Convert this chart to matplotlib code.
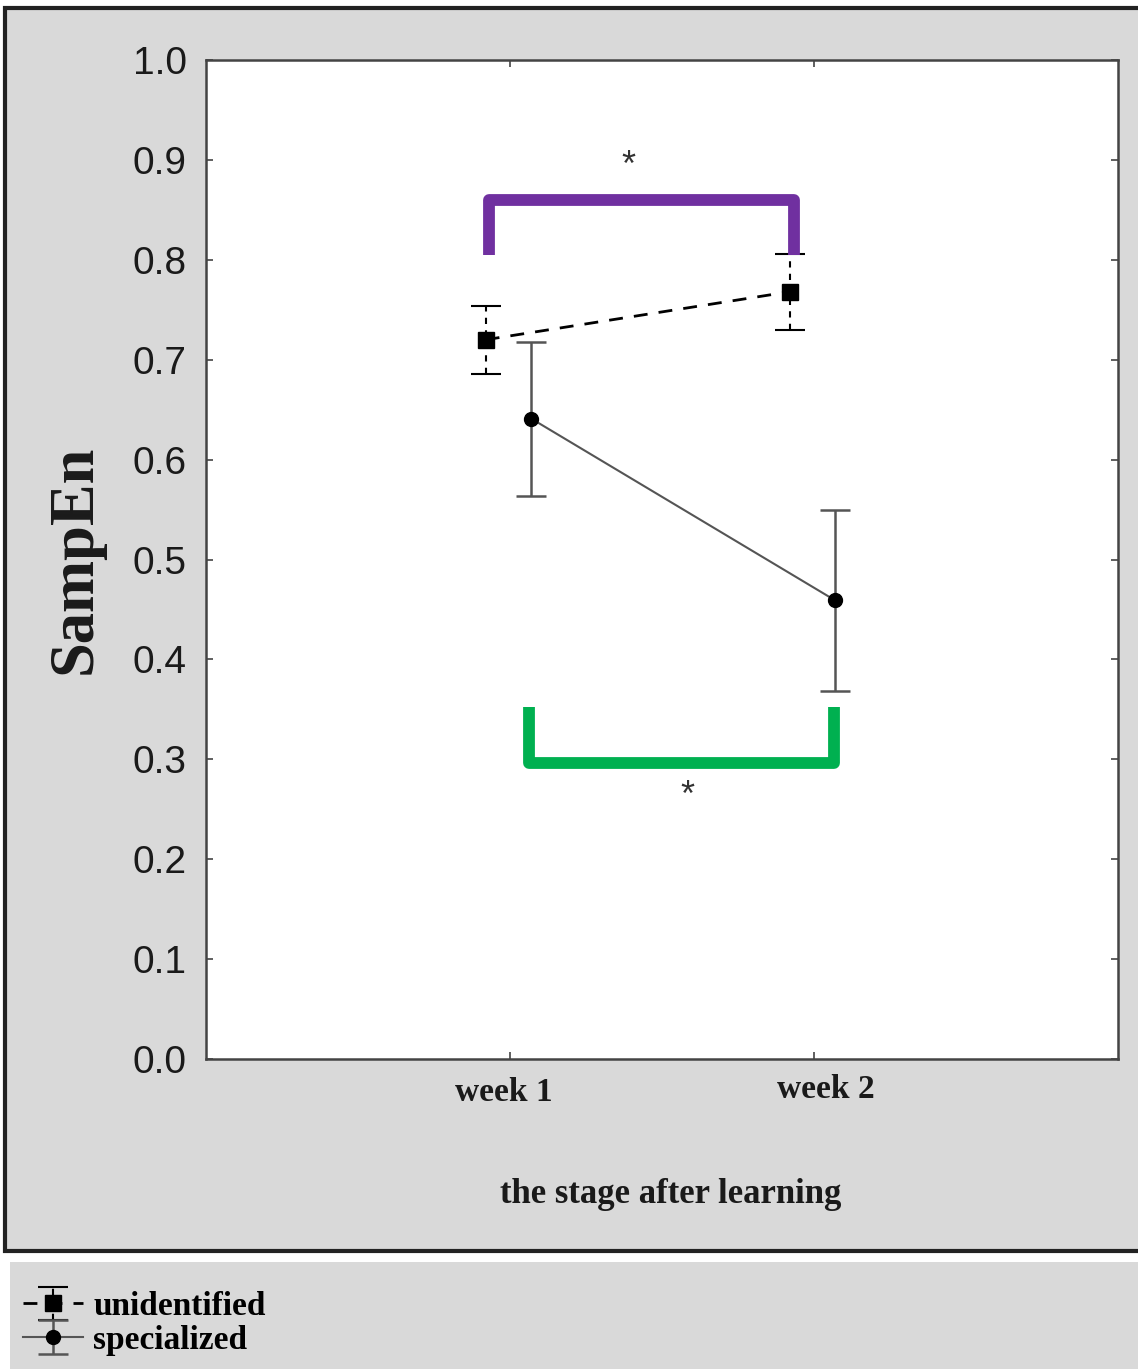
import matplotlib
matplotlib.use("Agg")
import matplotlib.pyplot as plt
from matplotlib.patches import Rectangle
import numpy as np

# values
weeks = ["week 1", "week 2"]
unid_mean = [0.720, 0.768]
unid_err = [0.034, 0.038]
spec_mean = [0.641, 0.459]
spec_err = [0.077, 0.091]

# significance brackets: (level, leg end)
purple_bracket = (0.860, 0.805)
green_bracket = (0.296, 0.352)

W, H = 1138, 1369
fig = plt.figure(figsize=(W / 100, H / 100), dpi=100, facecolor="white")

serif = ["Liberation Serif", "DejaVu Serif"]
sans = ["Liberation Sans", "DejaVu Sans"]
ink = "#1a1a1a"

# grey panels behind the plot and the legend
fig.patches.append(Rectangle((5 / W, 1 - 1251 / H), 1140 / W, 1243 / H,
                             transform=fig.transFigure, facecolor="#d9d9d9",
                             edgecolor="#222222", linewidth=3, zorder=-10))
fig.patches.append(Rectangle((10 / W, 0), 1130 / W, 107 / H,
                             transform=fig.transFigure, facecolor="#d9d9d9",
                             edgecolor="none", zorder=-10))

ax = fig.add_axes([206 / W, 1 - 1059 / H, 912 / W, 999 / H])
ax.set_facecolor("white")

x = np.arange(len(weeks))
off_u, off_s = -0.08, 0.07

eb_u = ax.errorbar(x + off_u, unid_mean, yerr=unid_err, color="black",
                   linestyle="--", linewidth=2, marker="s", markersize=12,
                   capsize=11, elinewidth=1.5, capthick=1.5, dashes=(5, 4),
                   label="unidentified", zorder=4)
eb_u[2][0].set_linestyle((0, (3, 3)))

eb_s = ax.errorbar(x + off_s, spec_mean, yerr=spec_err, color="#555555",
                   linestyle="-", linewidth=1.5, marker="o", markersize=10,
                   markerfacecolor="black", markeredgecolor="black",
                   capsize=11, elinewidth=1.8, capthick=1.8,
                   label="specialized", zorder=4)

# brackets
top, leg = purple_bracket
ax.plot([x[0] + off_u + 0.01, x[0] + off_u + 0.01, x[1] + off_u + 0.015, x[1] + off_u + 0.015],
        [leg, top, top, leg], color="#7030a0", linewidth=8.5,
        solid_joinstyle="round", solid_capstyle="butt", zorder=5)
bot, leg = green_bracket
ax.plot([x[0] + off_s - 0.008, x[0] + off_s - 0.008, x[1] + off_s - 0.005, x[1] + off_s - 0.005],
        [leg, bot, bot, leg], color="#00b050", linewidth=8.5,
        solid_joinstyle="round", solid_capstyle="butt", zorder=5)
ax.text(0.39, 0.893, "*", ha="center", va="center", fontsize=26, family=sans, color="#333333")
ax.text(0.585, 0.263, "*", ha="center", va="center", fontsize=26, family=sans, color="#333333")

ax.set_xlim(-1, 2)
ax.set_ylim(0, 1)
ax.set_xticks(x)
ax.set_xticklabels([])
# week labels sit a little off their ticks in the original
for xi, name, dx, dy in zip(x, weeks, [-0.02, 0.04], [-0.034, -0.031]):
    ax.text(xi + dx, dy, name, transform=ax.get_xaxis_transform(),
            ha="center", va="center", fontsize=24, fontweight="bold",
            family=serif, color=ink)
ax.set_yticks(np.arange(0, 1.01, 0.1))
ax.set_yticklabels([f"{v:.1f}" for v in np.arange(0, 1.01, 0.1)],
                   fontsize=28, family=sans, color=ink)
ax.tick_params(axis="both", direction="in", length=5, width=1.2, color="#444444",
               top=True, right=True)
ax.tick_params(axis="y", pad=14)
for s in ax.spines.values():
    s.set_color("#444444")
    s.set_linewidth(1.8)

ax.set_ylabel("SampEn", fontsize=45, fontweight="bold", family=serif,
              color=ink, labelpad=20)
ax.set_xlabel("the stage after learning", fontsize=25, fontweight="bold",
              family=serif, color=ink, va="center")
ax.xaxis.set_label_coords(0.509, -0.136)

fig.legend(handles=[eb_u, eb_s], loc="lower left",
           bbox_to_anchor=(10 / W, 0), frameon=False,
           prop={"family": serif, "weight": "bold", "size": 24},
           handlelength=1.8, handletextpad=0.3, labelspacing=0.08,
           borderaxespad=0)

fig.savefig("out.png", dpi=100, facecolor=fig.get_facecolor())
